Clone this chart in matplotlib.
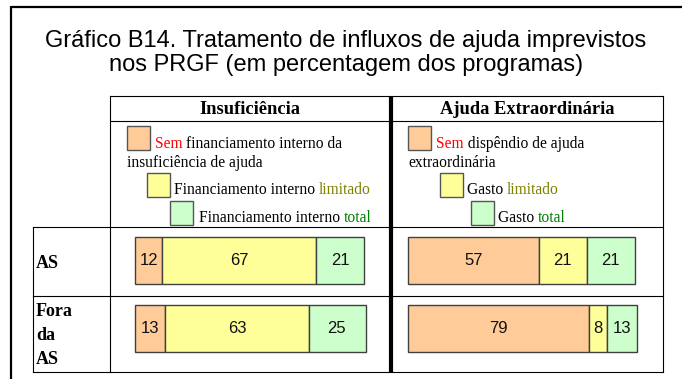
import matplotlib
matplotlib.use("Agg")
import matplotlib.pyplot as plt
from matplotlib.patches import Rectangle

# data
categories = ["AS", "Fora\nda\nAS"]
insuf_sem = [12, 13]
insuf_lim = [67, 63]
insuf_tot = [21, 25]
extra_sem = [57, 79]
extra_lim = [21, 8]
extra_tot = [21, 13]

col_sem = "#FFCC99"
col_lim = "#FFFF99"
col_tot = "#CCFFCC"
edge = "#404040"

W, H = 682, 379
fig = plt.figure(figsize=(W / 100, H / 100), dpi=100)
ax = fig.add_axes([0, 0, 1, 1])
ax.set_xlim(0, W)
ax.set_ylim(H, 0)
ax.axis("off")

sans = "Liberation Sans"
serif = "Liberation Serif"

# outer frame (only top and left visible)
ax.plot([11, W], [7, 7], color="black", lw=1.6, solid_capstyle="butt")
ax.plot([11, 11], [6.2, H], color="black", lw=1.6, solid_capstyle="butt")

# title
ax.text(346, 47, "Gráfico B14. Tratamento de influxos de ajuda imprevistos",
        ha="center", va="baseline", fontsize=17, family=sans)
ax.text(346, 71, "nos PRGF (em percentagem dos programas)",
        ha="center", va="baseline", fontsize=17, family=sans)

# table grid
thin = 0.8
for y, x0 in [(96, 110), (121, 110), (227, 33), (296, 33), (372, 33)]:
    ax.plot([x0, 663], [y, y], color="black", lw=thin)
ax.plot([33, 33], [227, 372], color="black", lw=thin)
ax.plot([110, 110], [96, 372], color="black", lw=thin)
ax.plot([663, 663], [96, 372], color="black", lw=thin)
ax.plot([391, 391], [96, 372], color="black", lw=3, solid_capstyle="butt")

# headers
ax.text(250, 109, "Insuficiência", ha="center", va="center",
        fontsize=13.3, fontweight="bold", family=serif)
ax.text(527, 109, "Ajuda Extraordinária", ha="center", va="center",
        fontsize=13.3, fontweight="bold", family=serif)

# row labels
row_centers = [261.5, 334]
for cat, cy in zip(categories, row_centers):
    lines = cat.split("\n")
    first = cy - (len(lines) - 1) * 12 + 6
    for i, line in enumerate(lines):
        ax.text(36, first + i * 24, line, ha="left", va="baseline",
                fontsize=13, fontweight="bold", family=serif)


def chain(x, y, parts, size=11.2):
    t = ax.text(x, y, parts[0][0], color=parts[0][1], ha="left",
                va="baseline", fontsize=size, family=serif)
    for s, c in parts[1:]:
        t = ax.annotate(s, xy=(1, 0), xycoords=t, ha="left", va="bottom",
                        color=c, fontsize=size, family=serif)


def square(x, y, color):
    ax.add_patch(Rectangle((x, y), 23, 24, facecolor=color,
                           edgecolor="#555555", lw=1))


# legend: insuficiencia
square(127, 126, col_sem)
chain(155, 148, [("Sem", "#FF0000"), (" financiamento interno da", "black")])
chain(127, 167, [("insuficiência de ajuda", "black")])
square(147, 173, col_lim)
chain(174, 194, [("Financiamento interno ", "black"), ("limitado", "#808000")])
square(170, 201, col_tot)
chain(199, 222, [("Financiamento interno ", "black"), ("total", "#008000")])

# legend: ajuda extraordinaria
square(408, 126, col_sem)
chain(436, 148, [("Sem", "#FF0000"), (" dispêndio de ajuda", "black")])
chain(408, 167, [("extraordinária", "black")])
square(440, 173, col_lim)
chain(467, 194, [("Gasto ", "black"), ("limitado", "#808000")])
square(471, 201, col_tot)
chain(498, 222, [("Gasto ", "black"), ("total", "#008000")])


def bar_panel(x_left, sem, lim, tot):
    bx = fig.add_axes([x_left / W, 1 - 352 / H, 229 / W, 115 / H])
    bx.set_xlim(0, 100)
    bx.set_ylim(1.3456, -0.3456)
    bx.axis("off")
    pos = range(len(categories))
    h = 0.69
    left = [0] * len(sem)
    for vals, col in [(sem, col_sem), (lim, col_lim), (tot, col_tot)]:
        bars = bx.barh(pos, vals, left=left, height=h, color=col,
                       edgecolor=edge, lw=1, clip_on=False)
        bx.bar_label(bars, labels=[str(v) for v in vals], label_type="center",
                     fontsize=12, family=sans, color="#111111")
        left = [a + b for a, b in zip(left, vals)]


bar_panel(135, insuf_sem, insuf_lim, insuf_tot)
bar_panel(408, extra_sem, extra_lim, extra_tot)

fig.savefig("out.png", dpi=100)
